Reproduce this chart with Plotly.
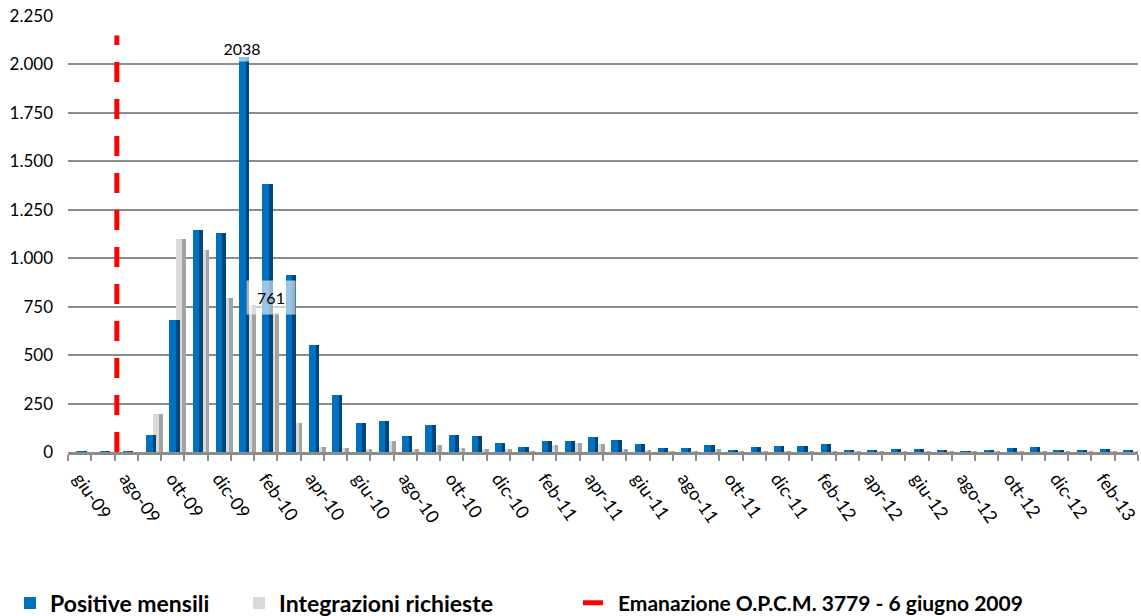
import plotly.graph_objects as go

# Monthly series, giu-09 .. mar-13
months = ["giu-09", "lug-09", "ago-09", "set-09", "ott-09", "nov-09", "dic-09",
          "gen-10", "feb-10", "mar-10", "apr-10", "mag-10", "giu-10", "lug-10",
          "ago-10", "set-10", "ott-10", "nov-10", "dic-10", "gen-11", "feb-11",
          "mar-11", "apr-11", "mag-11", "giu-11", "lug-11", "ago-11", "set-11",
          "ott-11", "nov-11", "dic-11", "gen-12", "feb-12", "mar-12", "apr-12",
          "mag-12", "giu-12", "lug-12", "ago-12", "set-12", "ott-12", "nov-12",
          "dic-12", "gen-13", "feb-13", "mar-13"]

positive_mensili = [3, 3, 5, 90, 679, 1146, 1130, 2038, 1382, 915, 552, 295, 152, 160,
                    85, 140, 88, 85, 45, 25, 55, 55, 80, 60, 40, 20, 20, 38,
                    12, 25, 30, 30, 42, 12, 12, 15, 15, 12, 5, 8, 20, 25,
                    12, 12, 18, 10]

integrazioni_richieste = [0, 0, 0, 195, 1100, 1045, 795, 761, 718, 150, 25, 20, 15, 55,
                          15, 35, 20, 15, 15, 5, 35, 45, 40, 15, 12, 5, 5, 15,
                          3, 5, 5, 5, 5, 2, 2, 2, 2, 2, 2, 2, 3, 3,
                          2, 2, 3, 2]

# Ordinance date marker (between lug-09 and ago-09) and its height
opcm_x = 1.6
opcm_top = 2150

y_ticks = list(range(0, 2251, 250))

BLUE = "#0070C0"
BLUE_SIDE = "#00467A"
GREY = "#D9D9D9"
GREY_SIDE = "#A3A3A3"
AXIS_GREY = "#8C8C8C"
FONT = "Lato, 'Liberation Sans', sans-serif"

x = list(range(len(months)))

fig = go.Figure()

# grey series sits behind the blue one; each gets a front face and a darker side face
fig.add_trace(go.Bar(x=x, y=integrazioni_richieste, offset=0.14, width=0.28,
                     marker=dict(color=GREY, line=dict(width=0)),
                     name="Integrazioni richieste", legend="legend2",
                     hoverinfo="y"))
fig.add_trace(go.Bar(x=x, y=integrazioni_richieste, offset=0.42, width=0.16,
                     marker=dict(color=GREY_SIDE, line=dict(width=0)),
                     showlegend=False, hoverinfo="skip"))
fig.add_trace(go.Bar(x=x, y=positive_mensili, offset=-0.14, width=0.28,
                     marker=dict(color=BLUE, line=dict(width=0)),
                     name="Positive mensili", legend="legend",
                     hoverinfo="y"))
fig.add_trace(go.Bar(x=x, y=positive_mensili, offset=0.14, width=0.16,
                     marker=dict(color=BLUE_SIDE, line=dict(width=0)),
                     showlegend=False, hoverinfo="skip"))

fig.add_trace(go.Scatter(x=[opcm_x, opcm_x], y=[0, opcm_top], mode="lines",
                         line=dict(color="#FF0000", width=5, dash="20px,17px"),
                         name="Emanazione O.P.C.M. 3779 - 6 giugno 2009",
                         legend="legend3", hoverinfo="skip"))

# value labels for the peak month
peak = positive_mensili.index(max(positive_mensili))
fig.add_annotation(x=peak - 0.02, y=positive_mensili[peak], text=str(positive_mensili[peak]),
                   showarrow=False, xanchor="center", yanchor="middle", yshift=9,
                   width=54, height=24, bgcolor="rgba(255,255,255,0.6)",
                   font=dict(family=FONT, size=16, color="#000000"))
fig.add_annotation(x=peak + 0.14, y=integrazioni_richieste[peak],
                   text=str(integrazioni_richieste[peak]),
                   showarrow=False, xanchor="left", yanchor="middle", yshift=7,
                   width=46, height=31, bgcolor="rgba(255,255,255,0.6)",
                   font=dict(family=FONT, size=16, color="#000000"))


def legend_box(x_px, size):
    return dict(orientation="h", xref="container", yref="container",
                x=x_px / 1141, yanchor="middle", y=0.021, bgcolor="rgba(0,0,0,0)",
                font=dict(family=FONT, size=size, color="#000000", weight="bold"),
                itemwidth=30)


fig.update_layout(
    width=1141, height=616,
    margin=dict(l=68, r=0, t=16, b=164),
    paper_bgcolor="white", plot_bgcolor="white",
    barmode="overlay", bargap=0,
    separators=",.",
    showlegend=True,
    legend=legend_box(10, 23),
    legend2=legend_box(239, 23),
    legend3=legend_box(578, 21),
    xaxis=dict(
        range=[-0.5, len(months) - 0.5],
        tickmode="array", tickvals=x[::2], ticktext=months[::2],
        tickangle=55, ticks="", ticklabelstandoff=6,
        ticklabeloverflow="allow",
        tickfont=dict(family=FONT, size=18, color="#000000"),
        showline=True, linecolor=AXIS_GREY, linewidth=3,
        showgrid=False, zeroline=False,
        minor=dict(ticks="outside", tickmode="linear", tick0=-0.5, dtick=1,
                   ticklen=6, tickwidth=2, tickcolor=AXIS_GREY, showgrid=False),
    ),
    yaxis=dict(
        range=[0, 2250],
        tickmode="array", tickvals=y_ticks, tickformat=",d",
        ticks="", ticklabelstandoff=14,
        tickfont=dict(family=FONT, size=17, color="#000000"),
        showgrid=True, gridcolor=AXIS_GREY, gridwidth=2,
        showline=False, zeroline=False,
    ),
)

fig.write_html("out.html")
